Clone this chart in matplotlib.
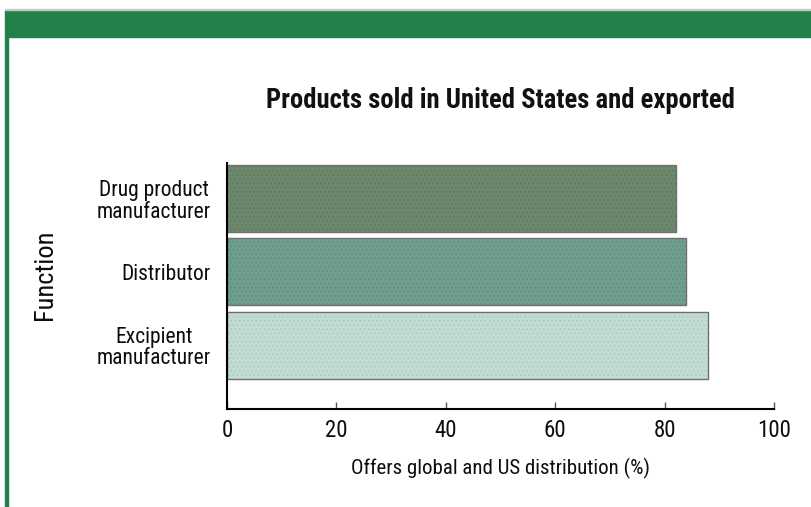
import matplotlib.pyplot as plt
from matplotlib.patches import Rectangle
from matplotlib import font_manager

# data
functions = ['Excipient\nmanufacturer', 'Distributor', 'Drug product\nmanufacturer']
values = [88, 84, 82]
bar_colors = ['#c3dcd2', '#6f9e8e', '#6c876c']
hatch_colors = ['#a9c9bd', '#5f8c7c', '#5a7a5c']
xticks = [0, 20, 40, 60, 80, 100]

names = {f.name for f in font_manager.fontManager.ttflist}
fam = 'Liberation Sans'
for cand in ['Liberation Sans Narrow', 'Roboto Condensed', 'Arial Narrow']:
    if cand in names:
        fam = cand
        break
plt.rcParams['font.family'] = [fam, 'DejaVu Sans']
plt.rcParams['hatch.linewidth'] = 0.6

fig = plt.figure(figsize=(8.11, 5.07), dpi=100)
W, H = 811, 507
green = '#23804a'

# green frame
fig.patches.append(Rectangle((5 / W, 1 - 37 / H), 1, 27 / H, transform=fig.transFigure,
                             color=green, zorder=0))
fig.patches.append(Rectangle((5 / W, 0), 3 / W, 1 - 37 / H, transform=fig.transFigure,
                             color=green, zorder=0))
fig.patches.append(Rectangle((5 / W, 1 - 10 / H), 1, 1 / H, transform=fig.transFigure,
                             color='#c8c8c8', zorder=0))

ax = fig.add_axes([227 / W, 1 - 409 / H, 547 / W, 246 / H])
ypos = list(range(len(functions)))
for y, v, c, hc in zip(ypos, values, bar_colors, hatch_colors):
    ax.barh(y, v, height=0.91, color=c, edgecolor=hc, hatch='....', linewidth=0)
    ax.barh(y, v, height=0.91, facecolor='none', edgecolor='#707070', linewidth=1.0)

ax.set_xlim(0, 100)
ax.set_ylim(-0.87, 2.48)
ax.set_xticks(xticks)
ax.set_yticks(ypos)
ax.set_yticklabels(functions, fontsize=15.5, color='#0d0d0d', multialignment='center',
                   linespacing=1.05)
ax.tick_params(axis='y', length=0, pad=11.5)
ax.tick_params(axis='x', direction='in', length=5, width=1, color='#555555',
               labelsize=16.5, labelcolor='#0d0d0d', pad=7)
ax.spines['top'].set_visible(False)
ax.spines['right'].set_visible(False)
ax.spines['left'].set_linewidth(1.5)
ax.spines['bottom'].set_linewidth(1.5)

ax.set_xlabel('Offers global and US distribution (%)', fontsize=15,
              color='#0d0d0d', labelpad=12)
fig.text(45 / W, 1 - 275 / H, 'Function', rotation=90, fontsize=19,
         color='#0d0d0d', ha='center', va='center')
fig.text(500 / W, 1 - 100 / H, 'Products sold in United States and exported',
         fontsize=19.2, weight='bold', color='#111111', ha='center', va='center')

fig.savefig('out.png', dpi=100)
